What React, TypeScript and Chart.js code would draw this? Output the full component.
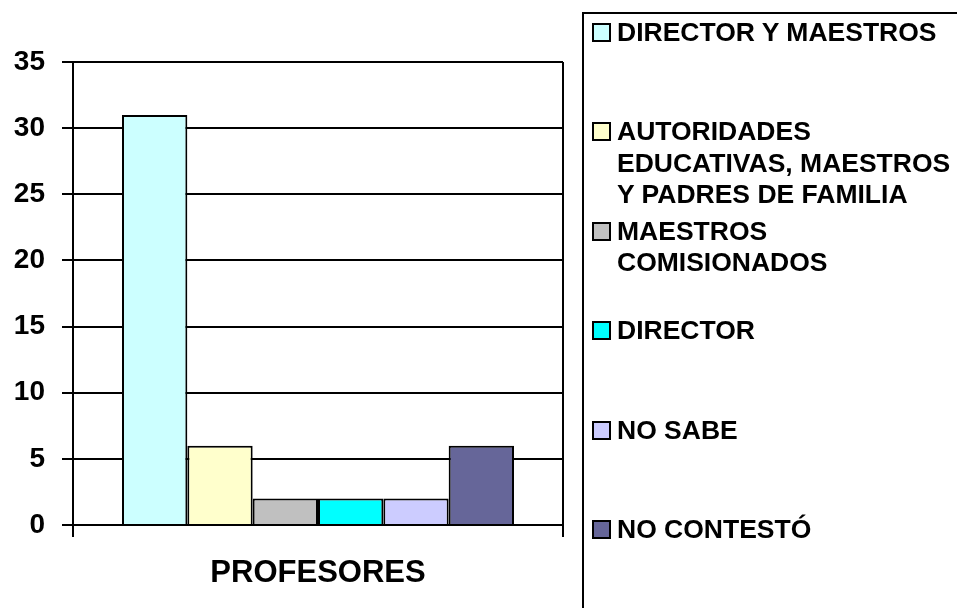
import React, { useEffect, useRef } from "react";
import { Chart, registerables } from "chart.js";

Chart.register(...registerables);

const categories: string[] = ["PROFESORES"];
const seriesNames: string[][] = [
  ["DIRECTOR Y MAESTROS"],
  ["AUTORIDADES", "EDUCATIVAS, MAESTROS", "Y PADRES DE FAMILIA"],
  ["MAESTROS", "COMISIONADOS"],
  ["DIRECTOR"],
  ["NO SABE"],
  ["NO CONTESTÓ"],
];
const seriesValues: number[] = [31, 6, 2, 2, 2, 6];
const seriesColors: string[] = ["#CCFFFF", "#FFFFCC", "#C0C0C0", "#00FFFF", "#CCCCFF", "#666699"];
const yTicks: number[] = [0, 5, 10, 15, 20, 25, 30, 35];

const FONT = 'Arial, "Liberation Sans", sans-serif';

export default function App() {
  const canvasRef = useRef<HTMLCanvasElement | null>(null);

  useEffect(() => {
    if (!canvasRef.current) return;
    const chart = new Chart(canvasRef.current, {
      type: "bar",
      data: {
        labels: categories,
        datasets: seriesValues.map((v, i) => ({
          label: seriesNames[i].join(" "),
          data: [v],
          backgroundColor: seriesColors[i],
          borderColor: "#000000",
          borderWidth: 2,
          barPercentage: 1,
          categoryPercentage: 0.8,
        })),
      },
      options: {
        animation: false,
        responsive: false,
        maintainAspectRatio: false,
        layout: { padding: { left: 0, top: 62, right: 394, bottom: 0 } },
        plugins: {
          legend: { display: false },
          tooltip: { enabled: false },
          title: { display: false },
        },
        scales: {
          x: {
            afterFit: (scale: any) => {
              scale.height = 83;
            },
            grid: {
              display: true,
              color: "#000000",
              lineWidth: 2,
              tickLength: 12,
              drawOnChartArea: true,
              offset: true,
            },
            border: { display: true, color: "#000000", width: 2 },
            ticks: {
              color: "#000000",
              font: { family: FONT, size: 31, weight: "bold" },
              padding: 18,
              maxRotation: 0,
            },
          },
          y: {
            min: yTicks[0],
            max: yTicks[yTicks.length - 1],
            afterFit: (scale: any) => {
              scale.width = 73;
            },
            afterBuildTicks: (scale: any) => {
              scale.ticks = yTicks.map((v) => ({ value: v }));
            },
            grid: {
              color: "#000000",
              lineWidth: 2,
              tickLength: 11,
              drawOnChartArea: true,
            },
            border: { display: true, color: "#000000", width: 2 },
            ticks: {
              color: "#000000",
              font: { family: FONT, size: 28, weight: "bold" },
              padding: 17,
            },
          },
        },
      },
    });
    return () => chart.destroy();
  }, []);

  const entryTop0 = 17;
  const entryStep = 99.4;

  return (
    <div
      style={{
        position: "fixed",
        left: 0,
        top: 0,
        width: 957,
        height: 608,
        background: "#ffffff",
        overflow: "hidden",
        fontFamily: FONT,
      }}
    >
      <canvas ref={canvasRef} width={957} height={608} style={{ position: "absolute", left: 0, top: 0 }} />
      <div
        style={{
          position: "absolute",
          left: 582,
          top: 12,
          width: 400,
          height: 700,
          borderLeft: "2px solid #000",
          borderTop: "2px solid #000",
          boxSizing: "border-box",
        }}
      />
      {seriesNames.map((lines, i) => (
        <div
          key={i}
          style={{
            position: "absolute",
            left: 592,
            top: entryTop0 + i * entryStep,
            display: "flex",
            alignItems: "flex-start",
          }}
        >
          <div
            style={{
              width: 19,
              height: 19,
              boxSizing: "border-box",
              border: "2px solid #000",
              background: seriesColors[i],
              marginTop: 6,
              flex: "0 0 auto",
            }}
          />
          <div
            style={{
              marginLeft: 6,
              fontSize: 26.5,
              fontWeight: "bold",
              lineHeight: "31.5px",
              color: "#000",
              whiteSpace: "nowrap",
            }}
          >
            {lines.map((l, j) => (
              <div key={j}>{l}</div>
            ))}
          </div>
        </div>
      ))}
    </div>
  );
}
